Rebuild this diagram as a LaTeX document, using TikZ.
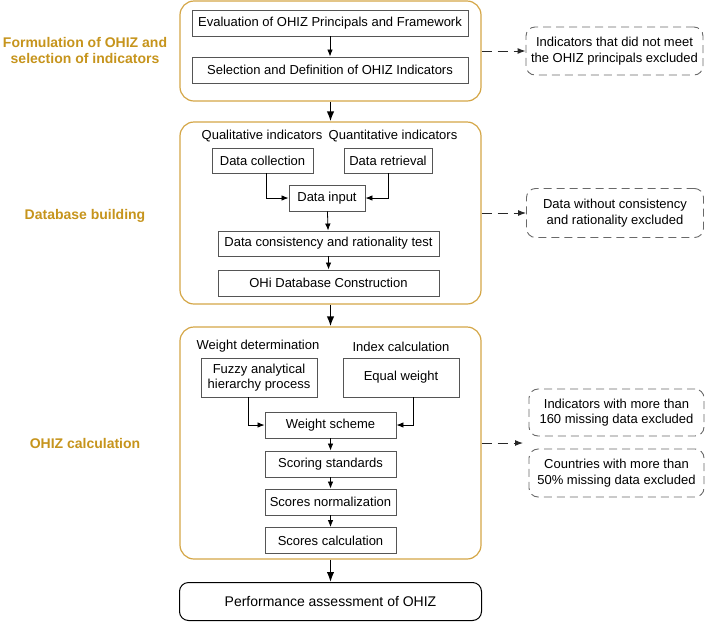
\documentclass[tikz,border=0pt]{standalone}
\usepackage{fontspec}
\setmainfont{Liberation Sans}
\usetikzlibrary{arrows.meta}
\definecolor{ogold}{RGB}{198,148,28}
\definecolor{oborder}{RGB}{212,166,70}
\definecolor{gbox}{RGB}{85,85,85}
\definecolor{dgray}{RGB}{105,105,105}
\definecolor{darrc}{RGB}{40,40,40}
\newcommand\boxfont{\fontsize{13}{15.5}\selectfont}
\newcommand\sidefont{\fontsize{14}{16}\selectfont\bfseries}
\newcommand\perffont{\fontsize{14}{16}\selectfont}
\tikzset{
 stage/.style={draw=oborder, line width=1.2pt, rounded corners=14pt, minimum width=301pt, inner sep=0pt},
 sbox/.style={draw=gbox, line width=0.9pt, inner sep=0pt, align=center, font=\boxfont, minimum height=26pt},
 dbox/.style={draw=dgray, line width=0.9pt, dash pattern=on 8pt off 5pt, rounded corners=9pt, align=center, inner sep=0pt, font=\boxfont, minimum width=177pt, minimum height=48pt},
 lbl/.style={font=\boxfont, inner sep=0pt},
 side/.style={font=\sidefont, text=ogold, align=center, inner sep=0pt},
 arr/.style={-{Latex[length=7pt,width=5.5pt]}, line width=0.8pt},
 mainarr/.style={-{Latex[length=10pt,width=7.5pt]}, line width=1.5pt},
 darr/.style={-{Latex[length=8pt,width=6pt]}, line width=1pt, dash pattern=on 10pt off 6pt, draw=darrc},
}
\begin{document}
\begin{tikzpicture}[x=1pt,y=-1pt]
\useasboundingbox (0,0) rectangle (705,622);

% side labels
\node[side] (s1) at (85,50) {Formulation of OHIZ and\\selection of indicators};
\node[side] (s2) at (85,216) {Database building};
\node[side] (s3) at (85,443) {OHIZ calculation};

% stage 1
\node[stage, minimum height=100pt] (b1) at (330.5,51) {};
\node[sbox, minimum width=276pt] (ev) at (330,23) {Evaluation of OHIZ Principals and Framework};
\node[sbox, minimum width=276pt] (se) at (330,70) {Selection and Definition of OHIZ Indicators};
\draw[arr] (ev) -- (se);
\node[dbox] (d1) at (614.5,51) {Indicators that did not meet\\the OHIZ principals excluded};
\draw[darr] (b1.east) -- (d1.west);

% stage 2
\node[stage, minimum height=182pt] (b2) at (330.5,213) {};
\node[lbl] (ql) at (262,136) {Qualitative indicators};
\node[lbl] (qn) at (393,136) {Quantitative indicators};
\node[sbox, minimum width=101pt, minimum height=25pt] (dc) at (262.5,160.5) {Data collection};
\node[sbox, minimum width=88pt, minimum height=25pt] (dr) at (388,160.5) {Data retrieval};
\node[sbox, minimum width=76pt] (di) at (327,198) {Data input};
\node[sbox, minimum width=221pt, minimum height=25pt] (dt) at (328.5,243.5) {Data consistency and rationality test};
\node[sbox, minimum width=221pt] (db) at (328.5,283) {OHi Database Construction};
\draw[arr] ([xshift=3.5pt]dc.south) |- (di.west);
\draw[arr] (dr.south) |- (di.east);
\draw[arr] (di) -- (dt);
\draw[arr] (dt) -- (db);
\node[dbox, minimum height=49pt] (d2) at (615,213) {Data without consistency\\and rationality excluded};
\draw[darr] (b2.east) -- (d2.west);

% stage 3
\node[stage, minimum height=232pt] (b3) at (330.5,443) {};
\node[lbl] (wd) at (258,346) {Weight determination};
\node[lbl] (ic) at (401,347) {Index calculation};
\node[sbox, minimum width=116pt, minimum height=39pt] (fz) at (259,377.5) {Fuzzy analytical\\hierarchy process};
\node[sbox, minimum width=116pt, minimum height=39pt] (eq) at (401,377.5) {Equal weight};
\node[sbox, minimum width=131pt] (ws) at (330.5,425) {Weight scheme};
\node[sbox, minimum width=131pt] (ss) at (330.5,464) {Scoring standards};
\node[sbox, minimum width=131pt] (sn) at (330.5,502) {Scores normalization};
\node[sbox, minimum width=131pt] (sc) at (330.5,540.5) {Scores calculation};
\draw[arr] ([xshift=-11pt]fz.south) |- (ws.west);
\draw[arr] ([xshift=12pt]eq.south) |- (ws.east);
\draw[arr] (ws) -- (ss);
\draw[arr] (ss) -- (sn);
\draw[arr] (sn) -- (sc);
\node[dbox, minimum width=175pt, minimum height=47pt] (d3a) at (616.5,412.5) {Indicators with more than\\160 missing data excluded};
\node[dbox, minimum width=175pt] (d3b) at (616.5,473) {Countries with more than\\50\% missing data excluded};
\coordinate (d3end) at (523,443);
\draw[darr] (b3.east) -- (d3end);

% final
\node[draw=black, line width=1pt, rounded corners=9pt, minimum width=302pt, minimum height=38pt, inner sep=0pt, font=\perffont] (pf) at (330.5,601.5) {Performance assessment of OHIZ};

% main arrows
\draw[mainarr] (b1.south) -- (b2.north);
\draw[mainarr] (b2.south) -- (b3.north);
\draw[mainarr] (b3.south) -- (pf.north);
\end{tikzpicture}
\end{document}
